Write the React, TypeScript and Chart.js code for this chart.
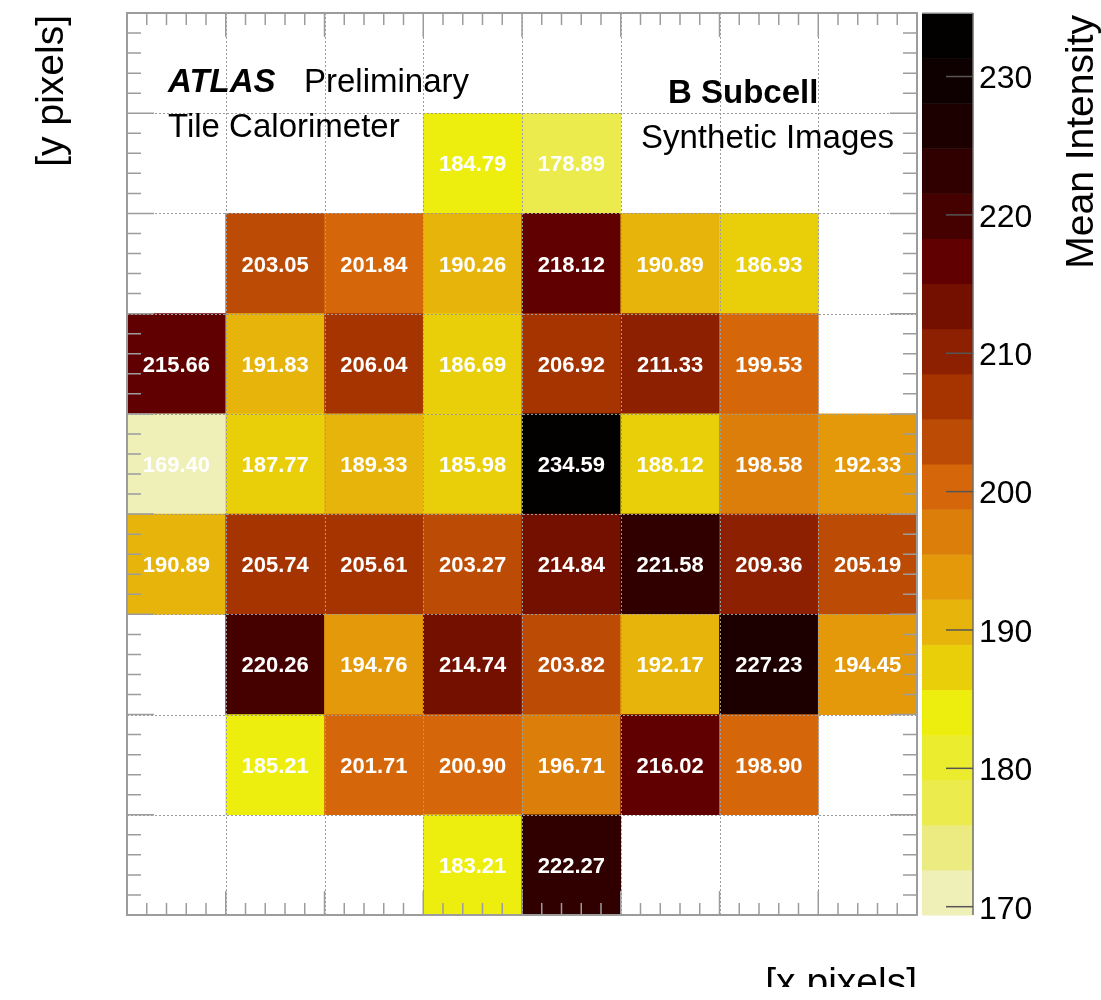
import { useEffect, useRef } from 'react';
import { Chart, registerables } from 'chart.js';

Chart.register(...registerables);

// Pixel bins of the synthetic B-subcell image
const xBins = [0, 1, 2, 3, 4, 5, 6, 7];
const yBins = [0, 1, 2, 3, 4, 5, 6, 7];
const yBinCount = 9; // the top row stays empty and carries the labels

// Mean intensity per pixel, one list per y bin (bottom to top), null = empty pixel
const row0 = [null, null, null, 183.21, 222.27, null, null, null];
const row1 = [null, 185.21, 201.71, 200.9, 196.71, 216.02, 198.9, null];
const row2 = [null, 220.26, 194.76, 214.74, 203.82, 192.17, 227.23, 194.45];
const row3 = [190.89, 205.74, 205.61, 203.27, 214.84, 221.58, 209.36, 205.19];
const row4 = [169.4, 187.77, 189.33, 185.98, 234.59, 188.12, 198.58, 192.33];
const row5 = [215.66, 191.83, 206.04, 186.69, 206.92, 211.33, 199.53, null];
const row6 = [null, 203.05, 201.84, 190.26, 218.12, 190.89, 186.93, null];
const row7 = [null, null, null, 184.79, 178.89, null, null, null];
const meanIntensity = [row0, row1, row2, row3, row4, row5, row6, row7];

// Colour-axis tick values
const zTicks = [170, 180, 190, 200, 210, 220, 230];

// 20-step heat palette, low to high
const palette = [
  '#efefb8', '#ebeb82', '#ebeb4e', '#ecec2e', '#eeee0e',
  '#e8cf0a', '#e6b40a', '#e3990a', '#db7e0a', '#d5670a',
  '#bc4c05', '#a63400', '#8c2000', '#741000', '#600000',
  '#450000', '#300000', '#1c0000', '#0e0000', '#030000',
];

const allValues = meanIntensity.flat().filter((v) => v !== null) as number[];
const zMin = Math.min(...allValues);
const zMax = Math.max(...allValues);

function colorFor(v: number) {
  let i = Math.floor(((v - zMin) / (zMax - zMin)) * palette.length);
  if (i < 0) i = 0;
  if (i > palette.length - 1) i = palette.length - 1;
  return palette[i];
}

const FONT = '"Liberation Sans", Arial, Helvetica, sans-serif';
const FRAME = '#9c9c9c';

const decorations = {
  id: 'decorations',
  afterDatasetsDraw(chart: any) {
    const { ctx, chartArea: a, scales } = chart;
    const xs = scales.x;
    const ys = scales.y;
    ctx.save();

    // values printed in each pixel
    ctx.fillStyle = '#ffffff';
    ctx.font = `bold 22px ${FONT}`;
    ctx.textAlign = 'center';
    ctx.textBaseline = 'alphabetic';
    chart.data.datasets.forEach((ds: any, i: number) => {
      const meta = chart.getDatasetMeta(i);
      meta.data.forEach((el: any, j: number) => {
        const cell = ds.data[j];
        const cy = (el.y + el.base) / 2;
        ctx.fillText(cell.v.toFixed(2), el.x, cy + 8);
      });
    });

    // dotted grid on bin edges
    ctx.strokeStyle = FRAME;
    ctx.lineWidth = 1;
    ctx.setLineDash([2, 2]);
    for (let k = 1; k < xBins.length; k++) {
      const px = Math.round(xs.getPixelForValue(k)) + 0.5;
      ctx.beginPath();
      ctx.moveTo(px, a.top);
      ctx.lineTo(px, a.bottom);
      ctx.stroke();
    }
    for (let k = 1; k < yBinCount; k++) {
      const py = Math.round(ys.getPixelForValue(k)) + 0.5;
      ctx.beginPath();
      ctx.moveTo(a.left, py);
      ctx.lineTo(a.right, py);
      ctx.stroke();
    }
    ctx.setLineDash([]);

    // inward tick marks on all four sides
    ctx.lineWidth = 1.5;
    const nx = xBins.length * 5;
    for (let k = 1; k < nx; k++) {
      const px = xs.getPixelForValue(k / 5);
      const len = k % 5 === 0 ? 24 : 12;
      ctx.beginPath();
      ctx.moveTo(px, a.bottom);
      ctx.lineTo(px, a.bottom - len);
      ctx.moveTo(px, a.top);
      ctx.lineTo(px, a.top + len);
      ctx.stroke();
    }
    const ny = yBinCount * 5;
    for (let k = 1; k < ny; k++) {
      const py = ys.getPixelForValue(k / 5);
      const len = k % 5 === 0 ? 27 : 14;
      ctx.beginPath();
      ctx.moveTo(a.left, py);
      ctx.lineTo(a.left + len, py);
      ctx.moveTo(a.right, py);
      ctx.lineTo(a.right - len, py);
      ctx.stroke();
    }

    // frame
    ctx.lineWidth = 2;
    ctx.strokeRect(a.left, a.top, a.right - a.left, a.bottom - a.top);

    // labels inside the frame
    ctx.fillStyle = '#000000';
    ctx.textAlign = 'left';
    ctx.font = `italic bold 33px ${FONT}`;
    ctx.fillText('ATLAS', a.left + 41, a.top + 79);
    ctx.font = `33px ${FONT}`;
    ctx.fillText('Preliminary', a.left + 177, a.top + 79);
    ctx.fillText('Tile Calorimeter', a.left + 41, a.top + 124);
    ctx.font = `bold 33px ${FONT}`;
    ctx.fillText('B Subcell', a.left + 541, a.top + 90);
    ctx.font = `33px ${FONT}`;
    ctx.fillText('Synthetic Images', a.left + 514, a.top + 135);

    ctx.restore();
  },
  afterDraw(chart: any) {
    const { ctx, chartArea: a, scales } = chart;
    const zs = scales.z;
    ctx.save();

    // colour bar
    const barLeft = a.right + 5;
    const barRight = a.right + 56;
    const step = (zMax - zMin) / palette.length;
    palette.forEach((c, i) => {
      const y0 = zs.getPixelForValue(zMin + i * step);
      const y1 = zs.getPixelForValue(zMin + (i + 1) * step);
      ctx.fillStyle = c;
      ctx.fillRect(barLeft, y1, barRight - barLeft, y0 - y1 + 0.5);
    });
    ctx.strokeStyle = '#b0b0b0';
    ctx.lineWidth = 1.5;
    ctx.beginPath();
    ctx.moveTo(barLeft, a.top);
    ctx.lineTo(barRight, a.top);
    ctx.stroke();
    ctx.strokeStyle = '#6e6e6e';
    ctx.beginPath();
    ctx.moveTo(barRight, a.top);
    ctx.lineTo(barRight, a.bottom);
    ctx.stroke();

    ctx.strokeStyle = '#555555';
    ctx.fillStyle = '#000000';
    ctx.font = `32px ${FONT}`;
    ctx.textAlign = 'left';
    ctx.textBaseline = 'middle';
    zTicks.forEach((t) => {
      const py = zs.getPixelForValue(t);
      ctx.beginPath();
      ctx.moveTo(barRight - 27, py);
      ctx.lineTo(barRight, py);
      ctx.stroke();
      ctx.fillText(String(t), barRight + 6, py + 3);
    });

    // axis titles
    ctx.textBaseline = 'alphabetic';
    ctx.font = `39px ${FONT}`;
    ctx.textAlign = 'right';
    ctx.save();
    ctx.translate(1093, a.top + 2);
    ctx.rotate(-Math.PI / 2);
    ctx.fillText('Mean Intensity', 0, 0);
    ctx.restore();

    ctx.save();
    ctx.translate(63, a.top + 2);
    ctx.rotate(-Math.PI / 2);
    ctx.fillText('[y pixels]', 0, 0);
    ctx.restore();

    ctx.fillText('[x pixels]', a.right, a.bottom + 80);

    ctx.restore();
  },
};

export default function App() {
  const canvasRef = useRef<HTMLCanvasElement | null>(null);

  useEffect(() => {
    const canvas = canvasRef.current;
    if (!canvas) return;

    const datasets = yBins.map((yb, r) => {
      const cells: { x: number; y: number[]; v: number }[] = [];
      meanIntensity[r].forEach((v, c) => {
        if (v !== null) cells.push({ x: xBins[c] + 0.5, y: [yb, yb + 1], v: v as number });
      });
      return {
        type: 'bar' as const,
        label: `y = ${yb}`,
        data: cells,
        backgroundColor: cells.map((p) => colorFor(p.v)),
        borderWidth: 0,
        barPercentage: 1,
        categoryPercentage: 1,
        grouped: false,
      };
    });

    const chart = new Chart(canvas, {
      type: 'bar',
      data: { datasets: datasets as any },
      options: {
        animation: false,
        responsive: false,
        devicePixelRatio: 1,
        events: [],
        layout: { padding: { left: 127, top: 13, right: 184, bottom: 72 } },
        plugins: { legend: { display: false }, tooltip: { enabled: false } },
        scales: {
          x: { type: 'linear', offset: false, min: 0, max: xBins.length, display: false, ticks: { stepSize: 1 } },
          y: { type: 'linear', min: 0, max: yBinCount, display: false, ticks: { stepSize: 1 } },
          z: { type: 'linear', axis: 'y', position: 'right', min: zMin, max: zMax, display: false },
        },
      } as any,
      plugins: [decorations],
    });

    return () => chart.destroy();
  }, []);

  return (
    <div style={{ position: 'absolute', left: 0, top: 0, width: 1101, height: 1000, overflow: 'hidden', background: '#ffffff' }}>
      <canvas ref={canvasRef} width={1101} height={987} style={{ display: 'block' }} />
    </div>
  );
}
